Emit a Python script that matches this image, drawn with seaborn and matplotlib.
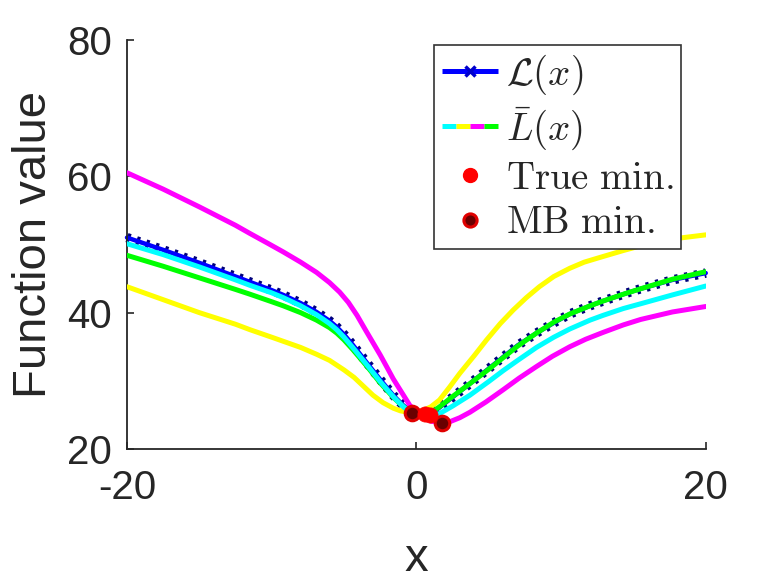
import numpy as np
import pandas as pd
import matplotlib
matplotlib.use("Agg")
import matplotlib.pyplot as plt
import seaborn as sns
from matplotlib.legend_handler import HandlerBase
from matplotlib.lines import Line2D

# ---------------- data ----------------
x_L = [-20, -17.5, -15, -12.5, -11.5, -10, -9.2, -8, -6.9, -6, -5.5, -5, -4.4, -3.4, -2.5, -1.6, -1, -0.5, 0, 0.7,
       1.2, 1.6, 2.5, 3.7, 5, 6, 7, 8.3, 9.5, 10.6, 12, 12.9, 14.3, 15.5, 17.7, 20]
y_L = [51.0, 49.2, 47.3, 45.3, 44.5, 43.3, 42.6, 41.4, 40.1, 38.8, 37.9, 36.8, 35.3, 32.6, 30.2, 27.9, 26.6, 25.7, 25.2, 25.0,
       25.4, 26.1, 27.6, 29.6, 31.8, 33.5, 35.2, 37.0, 38.5, 39.8, 41.0, 41.7, 42.7, 43.5, 44.8, 45.8]

x_cyan = [-20, -17.5, -15, -12.5, -11.5, -10, -9.2, -8, -6.9, -6, -5.5, -5, -4.4, -3.4, -2.5, -1.6, -1, -0.5, 0, 1.1,
          1.6, 2.5, 3.7, 5, 6, 7, 8.3, 9.5, 10.6, 12, 12.9, 14.3, 15.5, 17.7, 20]
y_cyan = [50.1, 48.5, 46.7, 44.8, 44.0, 42.9, 42.2, 41.0, 39.7, 38.4, 37.5, 36.4, 34.9, 32.3, 29.9, 27.7, 26.4, 25.5, 25.0, 24.8,
          25.2, 26.3, 27.9, 29.9, 31.5, 33.0, 34.9, 36.4, 37.6, 38.9, 39.6, 40.6, 41.3, 42.6, 43.9]

x_yellow = [-20, -17.5, -15, -12.5, -11.5, -10, -9.2, -8, -6.9, -6, -5, -4.3, -3.7, -3, -2.3, -1.6, -1.1, -0.3, 0.5, 1,
            1.6, 2.3, 3, 4, 4.85, 5.8, 6.7, 7.6, 8.5, 9.5, 10.6, 11.6, 12.7, 14.3, 15.5, 17.7, 20]
y_yellow = [43.8, 41.9, 40.0, 38.3, 37.5, 36.4, 35.8, 34.9, 33.9, 33.0, 31.6, 30.5, 29.3, 27.9, 26.8, 26.0, 25.6, 25.3, 25.7, 26.2,
            27.2, 29.1, 31.1, 33.7, 36.0, 38.4, 40.4, 42.2, 43.8, 45.3, 46.5, 47.4, 48.1, 49.1, 49.8, 50.8, 51.4]

x_magenta = [-20, -17.5, -15, -12.5, -11.5, -10.3, -9.2, -8, -6.9, -6, -5.3, -4.7, -4.1, -3.5, -3, -2.5, -2.06, -1.6, -1.1,
             -0.45, 0.3, 1, 1.8, 2.3, 3, 3.7, 4.8, 6, 7.1, 8.3, 9.4, 10.6, 11.7, 12.9, 14.3, 15.5, 17.7, 20]
y_magenta = [60.5, 58.1, 55.5, 52.8, 51.6, 50.2, 48.9, 47.4, 45.9, 44.4, 43.0, 41.5, 39.6, 37.4, 35.6, 33.8, 32.1, 30.3, 28.6,
             26.4, 24.9, 24.1, 23.8, 24.0, 24.6, 25.4, 26.9, 28.7, 30.4, 32.1, 33.6, 35.0, 36.1, 37.1, 38.2, 39.0, 40.1, 40.9]

x_green = [-20, -17.5, -15, -12.5, -11.5, -10, -9.2, -8, -6.9, -6, -5.5, -5, -4.4, -3.4, -2.5, -1.6, -1, -0.5, 0, 0.8,
           1.6, 2.5, 3.7, 5, 6, 7, 8.3, 9.5, 10.6, 12, 12.9, 14.3, 15.5, 17.7, 20]
y_green = [48.4, 46.8, 45.1, 43.4, 42.7, 41.6, 41.0, 40.0, 38.9, 37.8, 37.0, 36.0, 34.6, 32.1, 29.7, 27.6, 26.4, 25.6, 25.1, 25.0,
           26.2, 27.7, 29.6, 31.7, 33.4, 35.1, 37.0, 38.6, 39.8, 41.0, 41.7, 42.7, 43.5, 44.9, 46.0]

true_min_x = [0.6, 0.95]
true_min_y = [25.1, 24.95]
mb_min_x = [-0.3, 1.8]
mb_min_y = [25.3, 23.8]

x_ticks = [-20, 0, 20]
y_ticks = [20, 40, 60, 80]

# ---------------- style ----------------
sns.set_theme(style="white")
plt.rcParams["font.family"] = ["Liberation Sans", "DejaVu Sans"]
plt.rcParams["mathtext.fontset"] = "cm"
plt.rcParams["lines.solid_joinstyle"] = "round"
plt.rcParams["lines.solid_capstyle"] = "round"

dark = "#262626"
fig = plt.figure(figsize=(7.79, 5.84), dpi=100)
ax = fig.add_axes([0.163, 0.231, 0.743, 0.701])

# L(x): dense dark-blue texture underneath a solid blue line
sns.lineplot(x=x_L, y=y_L, ax=ax, sort=False, estimator=None, color="#00007a",
             linewidth=6.8, linestyle=(0, (0.35, 0.7)), clip_on=False, zorder=2)
sns.lineplot(x=x_L, y=y_L, ax=ax, sort=False, estimator=None, color="#0000ff",
             linewidth=3.2, clip_on=False, zorder=2.1)

order = [(x_yellow, y_yellow, "#ffff00"), (x_magenta, y_magenta, "#ff00ff"),
         (x_green, y_green, "#00ff00"), (x_cyan, y_cyan, "#00ffff")]
for i, (xx, yy, c) in enumerate(order):
    sns.lineplot(x=xx, y=yy, ax=ax, sort=False, estimator=None, color=c,
                 linewidth=3.6, zorder=3 + i * 0.1)

sns.scatterplot(x=mb_min_x, y=mb_min_y, ax=ax, s=110, color="#6a0000",
                edgecolor="#e00000", linewidth=2.2, zorder=5, clip_on=False)
sns.scatterplot(x=true_min_x, y=true_min_y, ax=ax, s=120, color="#ff0000",
                edgecolor="#ff0000", linewidth=0.5, zorder=5.1, clip_on=False)

ax.set_xlim(-20, 20)
ax.set_ylim(20, 80)
ax.set_xticks(x_ticks)
ax.set_yticks(y_ticks)
ax.set_xticklabels([str(v) for v in x_ticks])
ax.set_yticklabels([str(v) for v in y_ticks])
ax.tick_params(axis="both", direction="in", length=5, width=1.2, colors=dark,
               labelsize=29, left=True, bottom=True)
ax.tick_params(axis="x", pad=14)
ax.tick_params(axis="y", pad=11)
for s in ["top", "right"]:
    ax.spines[s].set_visible(False)
for s in ["left", "bottom"]:
    ax.spines[s].set_color(dark)
    ax.spines[s].set_linewidth(1.3)

ax.set_xlabel("x", fontsize=34, color=dark, labelpad=22)
ax.set_ylabel("Function value", fontsize=34, color=dark, labelpad=8)


# ---------------- legend ----------------
class MultiColorHandler(HandlerBase):
    def __init__(self, colors, **kw):
        super().__init__(**kw)
        self.colors = colors

    def create_artists(self, legend, orig_handle, xdescent, ydescent, width,
                       height, fontsize, trans):
        n = len(self.colors)
        seg = width / n
        arts = []
        for i, c in enumerate(self.colors):
            l = Line2D([i * seg - xdescent, (i + 1) * seg - xdescent],
                       [height / 2 - ydescent] * 2, color=c, linewidth=3.6,
                       solid_capstyle="butt", transform=trans)
            arts.append(l)
        return arts


h_L = Line2D([], [], color="#0000ff", linewidth=3.6, marker="x",
             markersize=7, markeredgewidth=2.5, markeredgecolor="#0000cc",
             solid_capstyle="butt")
h_bar = Line2D([], [], color="#00ffff")
h_true = Line2D([], [], linestyle="none", marker="o", markersize=10,
                markerfacecolor="#ff0000", markeredgecolor="#ff0000")
h_mb = Line2D([], [], linestyle="none", marker="o", markersize=9.5,
              markerfacecolor="#6a0000", markeredgecolor="#e00000",
              markeredgewidth=2.2)

leg = ax.legend([h_L, h_bar, h_true, h_mb],
                [r"$\mathcal{L}(x)$", r"$\bar{L}(x)$",
                 r"$\mathrm{True\ min.}$", r"$\mathrm{MB\ min.}$"],
                handler_map={h_bar: MultiColorHandler(
                    ["#00ffff", "#ffff00", "#ff00ff", "#00ff00"])},
                loc="upper left", bbox_to_anchor=(0.557, 0.923),
                bbox_transform=fig.transFigure, borderaxespad=0,
                fontsize=28, handlelength=1.45, handletextpad=0.2,
                labelspacing=0.22, borderpad=0.2, fancybox=False,
                framealpha=1, edgecolor="#333333")
leg.get_frame().set_linewidth(1.2)
leg.set_zorder(10)

fig.savefig("out.png", dpi=100)
